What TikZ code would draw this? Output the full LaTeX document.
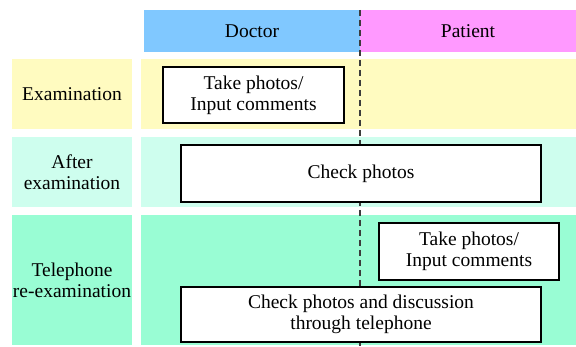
\documentclass[tikz,border=0pt]{standalone}
\usepackage{fontspec}
\setmainfont{Liberation Serif}
\definecolor{docblue}{RGB}{128,200,255}
\definecolor{patpink}{RGB}{255,153,255}
\definecolor{examyellow}{RGB}{255,251,192}
\definecolor{aftermint}{RGB}{206,254,238}
\definecolor{telgreen}{RGB}{153,253,212}
\definecolor{divgray}{RGB}{60,60,60}
\begin{document}
\begin{tikzpicture}[x=1pt,y=-1pt,
  every node/.style={inner sep=0pt,outer sep=0pt,align=center,
    font={\rmfamily\fontsize{19.5pt}{21pt}\selectfont}},
  band/.style={draw=none,minimum height=#1},
  band/.default=70pt,
  taskbox/.style={draw=black,fill=white,line width=1.3pt},
  divider/.style={draw=divgray,line width=1.1pt,dash pattern=on 6pt off 4pt}]
\useasboundingbox (0,0) rectangle (576,347);
% column headers
\node[band=42pt,fill=docblue,minimum width=216pt] (doc) at (252,31) {Doctor};
\node[band=42pt,fill=patpink,minimum width=216pt] (pat) at (468,31) {Patient};
% phase labels
\node[band,fill=examyellow,minimum width=120pt] (lexam) at (72,94) {Examination};
\node[band,fill=aftermint,minimum width=120pt] (lafter) at (72,172) {After\\examination};
\node[band=130pt,fill=telgreen,minimum width=120pt] (ltel) at (72,280) {Telephone\\re-examination};
% phase bands
\node[band,fill=examyellow,minimum width=435pt] (bexam) at (358.5,94) {};
\node[band,fill=aftermint,minimum width=435pt] (bafter) at (358.5,172) {};
\node[band=130pt,fill=telgreen,minimum width=435pt] (btel) at (358.5,280) {};
% doctor / patient divider
\coordinate (divbot) at (360,347);
\draw[divider] (doc.north east) -- (divbot);
% tasks
\node[taskbox,minimum width=181pt,minimum height=56pt] (t1) at (253.5,95) {Take photos/\\Input comments};
\node[taskbox,minimum width=360pt,minimum height=57pt] (t2) at (361,173.5) {Check photos};
\node[taskbox,minimum width=180pt,minimum height=57pt] (t3) at (469,251.5) {Take photos/\\Input comments};
\node[taskbox,minimum width=360pt,minimum height=55pt] (t4) at (361,314.5) {Check photos and discussion\\through telephone};
\end{tikzpicture}
\end{document}
